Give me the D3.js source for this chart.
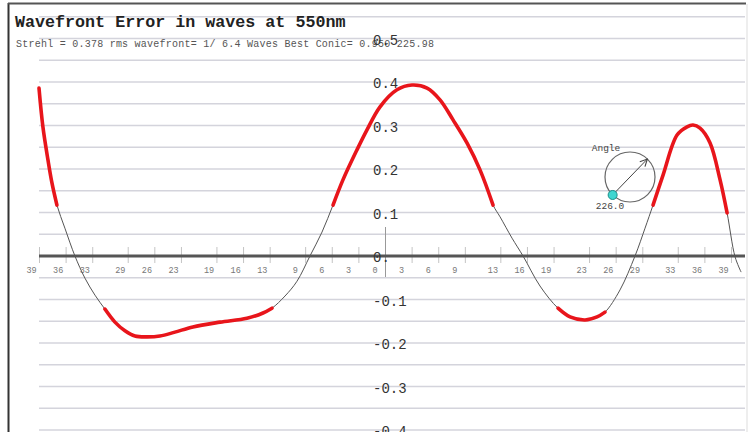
<!DOCTYPE html>
<html>
<head>
<meta charset="utf-8">
<script src="https://cdn.jsdelivr.net/npm/d3@7"></script>
<style>
    body { margin: 0; background: #fff; }
    svg { display: block; }
</style>
</head>
<body>
<div id="chart"></div>
<script>
// --- data --------------------------------------------------------------------
const titleText = "Wavefront Error in waves at 550nm";
const subtitleText = "Strehl = 0.378 rms wavefront= 1/ 6.4 Waves Best Conic= 0.950 225.98";

// x axis: signed zone positions, labelled by magnitude
const zoneTicks = [-39, -36, -33, -29, -26, -23, -19, -16, -13, -9, -6, -3, 0,
                   3, 6, 9, 13, 16, 19, 23, 26, 29, 33, 36, 39];
// y axis labels and the light horizontal rules (every 0.05 wave)
const errorTicks = [0.5, 0.4, 0.3, 0.2, 0.1, 0, -0.1, -0.2, -0.3, -0.4];
const gridLevels = [0.55, 0.5, 0.45, 0.4, 0.35, 0.3, 0.25, 0.2, 0.15, 0.1, 0.05,
                    -0.05, -0.1, -0.15, -0.2, -0.25, -0.3, -0.35, -0.4];

// wavefront profile
const profileX = [-39.0, -38.56, -37.99, -37.54, -36.98, -36.08, -34.95, -33.82, -32.69,
    -31.57, -30.44, -29.31, -28.18, -26.83, -25.37, -23.68, -21.65, -18.60, -15.56,
    -13.75, -12.74, -11.27, -9.92, -8.46, -7.10, -5.86, -4.74, -3.16, -2.03, -0.56,
    1.35, 3.04, 4.74, 6.20, 7.67, 9.24, 10.71, 12.18, 12.97, 14.32, 15.56, 17.47,
    19.50, 20.86, 22.55, 23.90, 24.80, 26.49, 28.18, 29.31, 30.21, 31.34, 32.92,
    34.05, 34.72, 35.51, 36.64, 37.77, 38.56, 39.46, 40.14];
const profileY = [0.386, 0.297, 0.221, 0.168, 0.117, 0.064, 0.0, -0.051, -0.090,
    -0.122, -0.152, -0.172, -0.184, -0.186, -0.184, -0.175, -0.163, -0.152, -0.143,
    -0.131, -0.120, -0.092, -0.058, 0.0, 0.055, 0.117, 0.175, 0.244, 0.290, 0.343,
    0.382, 0.393, 0.386, 0.359, 0.313, 0.260, 0.198, 0.117, 0.090, 0.041, 0.0, -0.069,
    -0.120, -0.140, -0.147, -0.140, -0.129, -0.078, 0.0, 0.064, 0.117, 0.186, 0.278,
    0.297, 0.301, 0.294, 0.260, 0.175, 0.099, -0.002, -0.037];

// stretches of the profile drawn in red
const redZones = [[-39.0, -36.98], [-31.57, -12.74], [-5.86, 12.18], [19.50, 24.80], [30.21, 38.56]];

const angleDeg = 226.0;

// --- canvas ------------------------------------------------------------------
const W = 752, H = 432;
const MONO = "'Courier New', 'Liberation Mono', monospace";

const svg = d3.select("#chart").append("svg")
    .attr("width", W).attr("height", H)
    .attr("viewBox", `0 0 ${W} ${H}`);

const x = d3.scaleLinear().domain([-39, 39]).range([39, 731]);
const y = d3.scaleLinear().domain([0, 0.5]).range([256, 38.5]);
const gridX0 = 39, gridX1 = 745;

// frame
svg.append("line").attr("x1", 8.5).attr("x2", 8.5).attr("y1", 3).attr("y2", H)
    .attr("stroke", "#333").attr("stroke-width", 2);
svg.append("line").attr("x1", 8).attr("x2", 746).attr("y1", 3.5).attr("y2", 3.5)
    .attr("stroke", "#555").attr("stroke-width", 2);
svg.append("line").attr("x1", 747).attr("x2", 747).attr("y1", 4).attr("y2", H)
    .attr("stroke", "#ddd").attr("stroke-width", 1);

// horizontal rules
svg.append("g").selectAll("line").data(gridLevels).join("line")
    .attr("x1", gridX0).attr("x2", gridX1)
    .attr("y1", d => y(d)).attr("y2", d => y(d))
    .attr("stroke", "#d4d4dc").attr("stroke-width", 1.6);

// title block
svg.append("text").attr("x", 15).attr("y", 27)
    .attr("font-family", MONO).attr("font-size", 16.7).attr("font-weight", "bold")
    .attr("fill", "#222").text(titleText);
svg.append("text").attr("x", 16).attr("y", 47)
    .attr("font-family", MONO).attr("font-size", 10).attr("fill", "#555")
    .attr("textLength", 418).attr("lengthAdjust", "spacing")
    .text(subtitleText);

// x axis (zero line with zone ticks)
const xAxis = d3.axisBottom(x).tickValues(zoneTicks)
    .tickFormat(d => String(Math.abs(d))).tickSizeOuter(0);
const gx = svg.append("g").attr("transform", "translate(0,256)").call(xAxis);
gx.select(".domain").remove();
gx.selectAll(".tick line")
    .attr("y1", d => d === 0 ? -29 : -9).attr("y2", d => d === 0 ? 21 : 7)
    .attr("stroke", d => d === 0 ? "#999" : "#c4c4c4").attr("stroke-width", 1);
gx.selectAll(".tick text")
    .attr("x", -13).attr("y", 17).attr("dy", 0).attr("text-anchor", "start")
    .attr("font-family", MONO).attr("font-size", 8.5).attr("fill", "#777")
    .text(d => d === 0 ? "0" : String(Math.abs(d)));
svg.append("line").attr("x1", gridX0).attr("x2", gridX1).attr("y1", 256).attr("y2", 256)
    .attr("stroke", "#555").attr("stroke-width", 3);

// y labels, placed on the centre line
const yAxis = d3.axisRight(y).tickValues(errorTicks).tickSize(0)
    .tickFormat(d => d === 0 ? "0." : d3.format(".1f")(d).replace("−", "-"));
const gy = svg.append("g").attr("transform", "translate(373,0)").call(yAxis);
gy.select(".domain").remove();
gy.selectAll(".tick text")
    .attr("x", 0).attr("dy", "0.4em").attr("text-anchor", "start")
    .attr("font-family", MONO).attr("font-size", 14).attr("fill", "#333");

// profile
const pts = profileX.map((v, i) => [v, profileY[i]]);
const line = d3.line().x(d => x(d[0])).y(d => y(d[1])).curve(d3.curveCatmullRom.alpha(0.5));

svg.append("path").attr("d", line(pts))
    .attr("fill", "none").attr("stroke", "#555").attr("stroke-width", 1);

svg.append("g").selectAll("path").data(redZones).join("path")
    .attr("d", z => line(pts.filter(p => p[0] >= z[0] - 1e-6 && p[0] <= z[1] + 1e-6)))
    .attr("fill", "none").attr("stroke", "#e8151b").attr("stroke-width", 3.6)
    .attr("stroke-linecap", "round");

// angle indicator
const cx = 630, cy = 177, r = 25;
const a = angleDeg * Math.PI / 180;
const dot = [cx + r * Math.cos(a), cy - r * Math.sin(a)];
const tip = [cx - r * Math.cos(a), cy + r * Math.sin(a)];

svg.append("defs").append("marker")
    .attr("id", "arrow").attr("viewBox", "0 0 10 10")
    .attr("refX", 9).attr("refY", 5).attr("markerWidth", 9).attr("markerHeight", 9)
    .attr("markerUnits", "userSpaceOnUse").attr("orient", "auto")
    .append("path").attr("d", "M1,1 L9,5 L1,9").attr("fill", "none")
    .attr("stroke", "#444").attr("stroke-width", 1.2);

svg.append("circle").attr("cx", cx).attr("cy", cy).attr("r", r)
    .attr("fill", "none").attr("stroke", "#666").attr("stroke-width", 1.2);
svg.append("line").attr("x1", dot[0]).attr("y1", dot[1]).attr("x2", tip[0]).attr("y2", tip[1])
    .attr("stroke", "#444").attr("stroke-width", 1).attr("marker-end", "url(#arrow)");
svg.append("circle").attr("cx", dot[0]).attr("cy", dot[1]).attr("r", 4.5)
    .attr("fill", "#3fd6d0").attr("stroke", "#1a8f8a").attr("stroke-width", 1);
svg.append("text").attr("x", 606).attr("y", 151).attr("text-anchor", "middle")
    .attr("font-family", MONO).attr("font-size", 9.5).attr("fill", "#444").text("Angle");
svg.append("text").attr("x", 610).attr("y", 209).attr("text-anchor", "middle")
    .attr("font-family", MONO).attr("font-size", 9.5).attr("fill", "#444")
    .text(angleDeg.toFixed(1));
</script>
</body>
</html>
